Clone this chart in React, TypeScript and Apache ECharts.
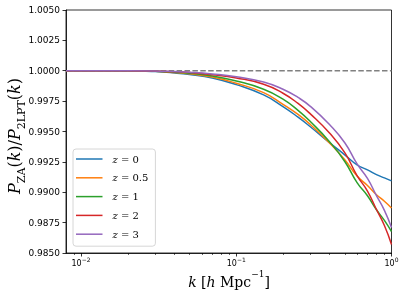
import React, { useEffect, useRef } from "react";
import * as echarts from "echarts";

const kValues = [0.008, 0.01, 0.02, 0.03, 0.04, 0.05, 0.07, 0.1, 0.15, 0.2, 0.25, 0.3, 0.4, 0.5, 0.6, 0.7, 0.8, 0.9, 1.0];
const z0 = [1.0, 1.0, 0.99999, 0.99993, 0.99982, 0.99969, 0.99941, 0.99886, 0.99801, 0.99705, 0.99618, 0.99539, 0.99406, 0.99308, 0.99225, 0.99184, 0.99145, 0.99118, 0.99094];
const z05 = [1.0, 1.0, 0.99999, 0.99995, 0.99986, 0.99975, 0.99949, 0.99897, 0.9982, 0.99724, 0.99641, 0.99558, 0.99404, 0.99268, 0.99133, 0.99056, 0.9898, 0.98926, 0.98871];
const z1 = [1.0, 1.0, 1.0, 0.99996, 0.99988, 0.9998, 0.99957, 0.99916, 0.99848, 0.99766, 0.99674, 0.99582, 0.99414, 0.99253, 0.99079, 0.98971, 0.98856, 0.98768, 0.98677];
const z2 = [1.0, 1.0, 1.0, 0.99997, 0.99992, 0.99985, 0.99968, 0.99941, 0.99889, 0.99815, 0.99731, 0.99645, 0.99486, 0.99326, 0.99137, 0.9901, 0.98858, 0.98726, 0.9857];
const z3 = [1.0, 1.0, 1.0, 0.99998, 0.99993, 0.99988, 0.99974, 0.99951, 0.99908, 0.99848, 0.9978, 0.99707, 0.99555, 0.99407, 0.99233, 0.99114, 0.98972, 0.98851, 0.9871];

const seriesNames = ["0", "0.5", "1", "2", "3"];
const seriesValues = [z0, z05, z1, z2, z3];
const colors = ["#1f77b4", "#ff7f0e", "#2ca02c", "#d62728", "#9467bd"];

const xMajorTicks = [0.01, 0.1, 1];
const xMajorExp = ["-2", "-1", "0"];
const xMinorTicks = [0.009, 0.02, 0.03, 0.04, 0.05, 0.06, 0.07, 0.08, 0.09, 0.2, 0.3, 0.4, 0.5, 0.6, 0.7, 0.8, 0.9];
const refLine = [[0.008, 1.0], [1.0, 1.0]];

const serif = "DejaVu Serif";
const sans = "DejaVu Sans";

export default function App() {
  const ref = useRef<HTMLDivElement>(null);
  useEffect(() => {
    if (!ref.current) return;
    const chart = echarts.init(ref.current, undefined, { renderer: "svg" });
    const series: any[] = seriesNames.map((n, i) => ({
      name: n,
      type: "line",
      xAxisIndex: 0,
      data: kValues.map((k, j) => [k, seriesValues[i][j]]),
      showSymbol: false,
      symbol: "none",
      smooth: 0.5,
      lineStyle: { color: colors[i], width: 1.5 },
      itemStyle: { color: colors[i] },
      z: 3,
    }));
    series.unshift({
      name: "ref",
      type: "line",
      data: refLine,
      showSymbol: false,
      symbol: "none",
      lineStyle: { color: "#808080", width: 1.4, type: [5.5, 2.4] },
      z: 2,
      silent: true,
    });
    const option: any = {
      animation: false,
      grid: { left: 66, top: 10, width: 325.5, height: 243, show: true, borderColor: "#000", borderWidth: 0.8 },
      xAxis: [
        {
          type: "log",
          logBase: 10,
          min: 0.008,
          max: 1,
          axisLine: { show: true, lineStyle: { color: "#000", width: 0.8 } },
          axisTick: { show: true, customValues: xMajorTicks, length: 3.5, lineStyle: { color: "#000", width: 0.8 } },
          axisLabel: {
            customValues: xMajorTicks,
            margin: 3,
            formatter: (v: number) => {
              const idx = xMajorTicks.findIndex((t) => Math.abs(t - v) / t < 1e-6);
              return idx >= 0 ? `{b|10}{s|${xMajorExp[idx].replace("-", "\u2212")}}` : "";
            },
            rich: {
              b: { fontFamily: sans, fontSize: 8, color: "#000", lineHeight: 11, verticalAlign: "bottom" },
              s: { fontFamily: sans, fontSize: 6, color: "#000", lineHeight: 11, verticalAlign: "top" },
            },
          },
          splitLine: { show: false },
        },
        {
          type: "log",
          logBase: 10,
          min: 0.008,
          max: 1,
          position: "bottom",
          axisLine: { show: false },
          axisTick: { show: true, customValues: xMinorTicks, length: 2, lineStyle: { color: "#000", width: 0.6 } },
          axisLabel: { show: false },
          splitLine: { show: false },
        },
      ],
      yAxis: {
        type: "value",
        min: 0.985,
        max: 1.005,
        interval: 0.0025,
        axisLine: { show: true, lineStyle: { color: "#000", width: 0.8 } },
        axisTick: { show: true, length: 3.5, lineStyle: { color: "#000", width: 0.8 } },
        axisLabel: {
          margin: 6,
          fontFamily: sans,
          fontSize: 9,
          color: "#000",
          formatter: (v: number) => v.toFixed(4),
        },
        splitLine: { show: false },
      },
      legend: {
        data: seriesNames,
        orient: "vertical",
        left: 73,
        top: 149,
        padding: [3, 7, 5, 3],
        itemGap: 4.8,
        itemWidth: 26.5,
        itemHeight: 14,
        icon: "path://M0,0H53V3H0Z",
        symbolKeepAspect: true,
        backgroundColor: "rgba(255,255,255,0.8)",
        borderColor: "#cccccc",
        borderWidth: 0.8,
        borderRadius: 3,
        formatter: (name: string) => `{i|z}{n| = ${name}}`,
        textStyle: {
          lineHeight: 14,
          fontSize: 10,
          rich: {
            i: { fontFamily: serif, fontStyle: "italic", fontSize: 10, color: "#000", padding: [0, 0, 0, 5], lineHeight: 14 },
            n: { fontFamily: serif, fontSize: 10, color: "#000", lineHeight: 14 },
          },
        },
      },
      graphic: [
        {
          type: "text",
          x: 229,
          y: 279,
          style: {
            text: "{i|k}{n| [}{i|h}{n| Mpc}{s|\u22121}{n|]}",
            align: "center",
            verticalAlign: "middle",
            rich: {
              i: { fontFamily: serif, fontStyle: "italic", fontSize: 14, fill: "#000", lineHeight: 19, verticalAlign: "bottom" },
              n: { fontFamily: serif, fontSize: 14, fill: "#000", lineHeight: 19, verticalAlign: "bottom" },
              s: { fontFamily: serif, fontSize: 9, fill: "#000", lineHeight: 19, verticalAlign: "top" },
            },
          },
        },
        {
          type: "text",
          x: 16.5,
          y: 136,
          rotation: Math.PI / 2,
          style: {
            text: "{i|P}{s|ZA}{n|(}{i|k}{n|)/}{i|P}{s|2LPT}{n|(}{i|k}{n|)}",
            align: "center",
            verticalAlign: "middle",
            rich: {
              i: { fontFamily: serif, fontStyle: "italic", fontSize: 16, fill: "#000", lineHeight: 20, verticalAlign: "top" },
              n: { fontFamily: serif, fontSize: 16, fill: "#000", lineHeight: 20, verticalAlign: "top" },
              s: { fontFamily: serif, fontSize: 11, fill: "#000", lineHeight: 20, verticalAlign: "bottom" },
            },
          },
        },
      ],
      series,
    };
    chart.setOption(option);
    return () => chart.dispose();
  }, []);
  return <div ref={ref} style={{ position: "fixed", left: 0, top: 0, width: 407, height: 299 }} />;
}
